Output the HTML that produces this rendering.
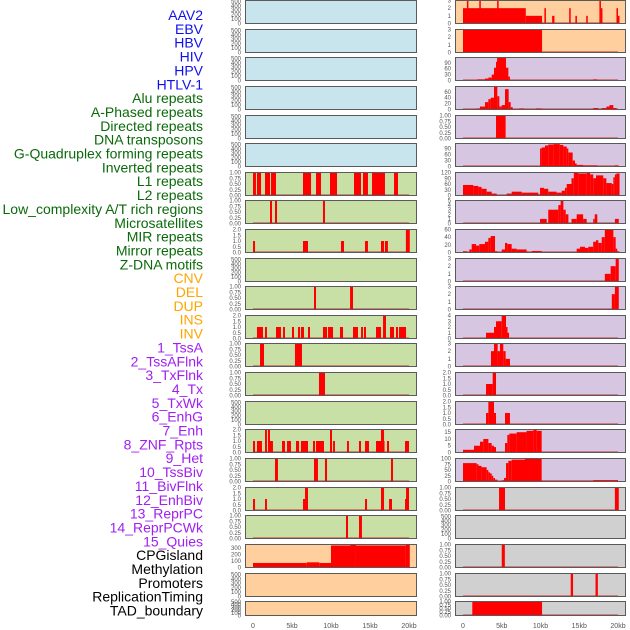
<!DOCTYPE html>
<html><head><meta charset="utf-8">
<style>
html,body{margin:0;padding:0;background:#fff;}
svg{display:block;font-family:"Liberation Sans",sans-serif;}
</style></head>
<body>
<svg id="chart" width="630" height="630" viewBox="0 0 630 630" xmlns="http://www.w3.org/2000/svg"></svg>
<script>
const labels=["AAV2","EBV","HBV","HIV","HPV","HTLV-1","Alu repeats","A-Phased repeats","Directed repeats","DNA transposons","G-Quadruplex forming repeats","Inverted repeats","L1 repeats","L2 repeats","Low_complexity A/T rich regions","Microsatellites","MIR repeats","Mirror repeats","Z-DNA motifs","CNV","DEL","DUP","INS","INV","1_TssA","2_TssAFlnk","3_TxFlnk","4_Tx","5_TxWk","6_EnhG","7_Enh","8_ZNF_Rpts","9_Het","10_TssBiv","11_BivFlnk","12_EnhBiv","13_ReprPC","14_ReprPCWk","15_Quies","CPGisland","Methylation","Promoters","ReplicationTiming","TAD_boundary"];
const labelGroups=[6,13,5,15,5];
const groupColors=["#1010ee","#0a6a0a","#ffa500","#a020f0","#000000"];
const xTicks=[0,5,10,15,20];
const xTickLabels=["0","5kb","10kb","15kb","20kb"];
const panelTops=[0,29,57,86,115,143,172,200,229,258,286,315,343,372,401,429,458,487,515,544,573,601];
const leftFill=["#c8e4ec","#c8e4ec","#c8e4ec","#c8e4ec","#c8e4ec","#c8e4ec","#c8e0a6","#c8e0a6","#c8e0a6","#c8e0a6","#c8e0a6","#c8e0a6","#c8e0a6","#c8e0a6","#c8e0a6","#c8e0a6","#c8e0a6","#c8e0a6","#c8e0a6","#ffd09e","#ffd09e","#ffd09e"];
const rightFill=["#ffd09e","#ffd09e","#d6c6e2","#d6c6e2","#d6c6e2","#d6c6e2","#d6c6e2","#d6c6e2","#d6c6e2","#d6c6e2","#d6c6e2","#d6c6e2","#d6c6e2","#d6c6e2","#d6c6e2","#d6c6e2","#d6c6e2","#d0d0d0","#d0d0d0","#d0d0d0","#d0d0d0","#d0d0d0"];
const E=[];
// Left column data: [startKb, endKb, value]
const L7=[[0,0.38,1],[0.51,1.03,1],[1.54,2.18,1],[2.31,2.95,1],[6.41,7.44,1],[8.08,8.72,1],[9.87,10.77,1],[12.95,13.85,1],[14.1,14.74,1],[15.26,16.92,1],[18.08,18.59,1]];
const L8=[[2.18,2.44,1],[2.82,3.08,1],[8.97,9.23,1]];
const L9=[[0,0.26,1],[6.41,7.05,1],[11.28,11.67,1],[14.36,14.74,1],[16.41,16.8,1],[16.92,17.3,1],[19.6,20.1,2]];
const L11=[[7.82,8.08,1],[12.44,12.82,1]];
const L12=[[0.51,1.28,1],[1.54,1.79,1],[2.95,3.59,1],[3.85,4.1,1],[5.0,5.26,1],[5.77,6.03,1],[6.15,6.54,1],[7.05,7.31,1],[8.97,9.49,1],[9.62,10.26,1],[11.15,11.54,1],[12.82,13.46,1],[13.85,14.1,1],[14.23,14.49,1],[15.77,16.41,1],[16.67,17.05,2],[17.56,18.08,1],[18.33,18.59,1],[18.72,19.62,1]];
const L13=[[0.9,1.41,1],[5.38,6.28,1]];
const L14=[[8.46,9.23,1]];
const L16=[[0,0.26,1],[0.51,1.15,1],[1.54,1.79,2],[1.92,2.18,2],[2.18,2.56,1],[3.72,4.1,1],[4.36,4.87,1],[5.51,5.9,1],[6.15,7.05,1],[7.69,7.95,1],[8.08,9.1,1],[9.87,10.13,2],[10.26,10.51,1],[12.05,12.3,1],[13.59,13.85,1],[14.36,14.87,1],[15.77,16.41,1],[16.41,16.8,2],[16.8,16.67,1],[17.18,17.44,1],[19.49,20,1]];
const L17=[[2.82,3.2,1],[7.82,8.33,1],[9.23,9.49,1],[17.69,17.95,1]];
const L18=[[0,0.26,1],[1.54,1.79,1],[6.41,6.67,1],[6.67,7.05,2],[14.36,14.62,1],[16.41,16.8,2],[17.44,17.82,1],[19.49,19.62,1],[19.62,20,2]];
const L19=[[11.92,12.18,1],[13.59,13.97,1]];
const L20=[[0,6.9,70],[6.9,8.5,80],[8.5,10,70],[10,12.5,340],[12.5,13.2,355],[13.2,19.6,340],[19.6,20.1,350]];
const leftData=[E,E,E,E,E,E,L7,L8,L9,E,L11,L12,L13,L14,E,L16,L17,L18,L19,L20,E,E];
const leftMax=[520,520,520,520,520,520,1,1,2,520,1,2,1,1,520,2,1,2,1,355,520,520];
const leftTicks=[[0,100,200,300,400,500],[0,100,200,300,400,500],[0,100,200,300,400,500],[0,100,200,300,400,500],[0,100,200,300,400,500],[0,100,200,300,400,500],[0,0.25,0.5,0.75,1],[0,0.25,0.5,0.75,1],[0,0.5,1,1.5,2],[0,100,200,300,400,500],[0,0.25,0.5,0.75,1],[0,0.5,1,1.5,2],[0,0.25,0.5,0.75,1],[0,0.25,0.5,0.75,1],[0,100,200,300,400,500],[0,0.5,1,1.5,2],[0,0.25,0.5,0.75,1],[0,0.5,1,1.5,2],[0,0.25,0.5,0.75,1],[0,100,200,300],[0,100,200,300,400,500],[0,100,200,300,400,500]];
// Right column data
const R1=[[0,8.1,2],[0.5,0.7,3],[2.1,2.3,3],[4.4,4.6,3],[8.1,10.2,1],[10.5,10.7,2],[11.5,11.8,1],[13.7,13.9,2],[14.5,14.7,1],[15.9,16.1,1],[17.6,17.8,3],[17.8,17.9,2],[19.8,20,2],[20,20.1,1]];
const R2=[[0,10.2,3]];
const R3=[[1.85,2.84,5],[2.84,3.27,10],[3.27,3.7,15],[3.7,4.0,30],[4.0,4.26,65],[4.26,4.4,95],[4.4,5.55,117],[5.55,5.85,65],[5.85,6.06,20],[16.8,17.3,5]];
const R4=[[1.76,2.19,3],[2.19,2.84,10],[2.84,3.27,25],[3.27,3.57,35],[3.57,4.0,40],[4.0,4.43,78],[4.43,4.69,45],[4.69,4.99,10],[4.99,5.42,15],[5.42,5.89,69],[5.89,6.15,25],[6.15,6.41,8],[7.27,7.87,3],[9.42,10.15,3],[16.8,17.46,5],[17.9,18.5,5],[18.5,18.9,10],[18.9,19.4,15],[19.4,19.8,5]];
const R5=[[4.26,5.5,1]];
const R6=[[9.94,10.15,90],[10.15,10.58,95],[10.58,11.0,105],[11.0,11.66,110],[11.66,12.5,112],[12.5,12.95,108],[12.95,13.38,100],[13.38,13.59,90],[13.59,14.15,70],[14.15,14.45,30],[14.45,14.67,15],[14.67,15.5,8],[15.5,17.33,5],[19.6,20.1,5]];
const R7=[[0,1.33,55],[1.33,1.98,50],[1.98,2.4,45],[2.4,3.05,35],[3.05,3.7,20],[3.7,4.34,10],[4.34,5.63,2],[5.63,6.28,10],[6.28,7.57,20],[7.57,9.72,15],[9.72,9.94,5],[9.94,10.45,40],[10.45,11.0,35],[11.0,12.08,20],[12.08,12.73,15],[12.73,13.16,25],[13.16,13.38,40],[13.38,14.0,60],[14.0,14.3,90],[14.3,14.88,120],[14.88,15.96,115],[15.96,16.4,120],[16.4,16.8,110],[16.8,17.16,90],[17.16,18.1,105],[18.1,18.5,90],[18.5,19.2,65],[19.2,19.4,60],[19.4,19.6,95],[19.6,19.8,110],[19.8,20.2,115]];
const R8=[[9.94,10.8,1],[11.0,12.3,3],[12.3,12.6,4],[12.6,12.95,5],[12.95,13.25,3],[13.25,13.6,2],[14.0,14.67,1],[14.67,15.5,2],[15.5,15.96,1],[16.8,17.0,1],[17.0,17.33,2],[19.6,20.1,1]];
const R9=[[0,0.47,3],[0.82,1.12,8],[1.12,1.68,22],[1.68,2.1,18],[2.1,2.84,22],[2.84,3.27,28],[3.27,3.57,38],[3.57,4.13,43],[4.13,4.43,3],[5.0,5.42,8],[5.42,5.72,25],[5.72,6.28,22],[6.28,6.92,10],[6.92,8.2,8],[8.2,8.43,2],[8.86,10.15,4],[14.67,15.1,10],[15.1,15.74,15],[15.74,16.17,12],[16.17,16.8,15],[16.8,17.16,28],[17.16,17.46,32],[17.46,17.9,25],[17.9,18.3,40],[18.3,19.4,60],[19.4,19.7,40],[19.7,19.9,10],[19.9,20.17,3]];
const R10=[[18.3,19.05,1],[19.05,19.7,2],[19.7,20.1,3]];
const R11=[[19.2,19.6,2],[19.6,20.1,3]];
const R12=[[2.97,4.0,1],[4.0,4.26,2],[4.26,4.99,3],[4.99,5.55,4],[5.55,5.72,2],[5.72,5.94,1]];
const R13=[[3.61,4.0,2],[4.0,4.47,3],[4.47,4.77,2],[4.77,5.2,3],[5.2,5.5,2],[5.5,6.06,1]];
const R14=[[2.97,3.83,1],[3.83,4.26,2]];
const R15=[[2.97,3.27,1],[3.27,4.0,2],[4.0,4.26,1],[5.42,6.06,1]];
const R16=[[0,1.42,2],[1.42,2.19,5],[2.19,2.62,8],[2.62,3.27,10],[3.27,3.7,7],[3.7,4.0,5],[4.0,4.26,4],[5.42,5.72,7],[5.72,5.98,13],[5.98,6.92,14],[6.92,8.2,15],[8.2,9.08,16],[9.08,9.5,17],[9.5,10.15,16]];
const R17=[[0,1.76,80],[1.76,2.0,75],[2.0,2.4,68],[2.4,3.05,62],[3.05,3.27,50],[3.27,3.48,40],[3.48,3.7,35],[3.7,3.9,25],[3.9,4.13,15],[4.13,4.43,8],[4.43,5.0,2],[5.0,5.29,5],[5.29,5.55,15],[5.55,5.85,80],[5.85,6.28,90],[6.28,8.0,95],[8.0,10.15,100],[10.15,16.8,3],[16.8,20,6]];
const R18=[[4.65,5.42,1],[19.6,20.1,1]];
const R20=[[5.0,5.4,1]];
const R21=[[13.9,14.2,1],[17.1,17.4,1]];
const R22=[[1.2,10.2,1]];
const rightData=[R1,R2,R3,R4,R5,R6,R7,R8,R9,R10,R11,R12,R13,R14,R15,R16,R17,R18,E,R20,R21,R22];
const rightMax=[3,3,117,78,1,115,120,5,60,3,3,4,3,2,2,17,100,1,520,1,1,1];
const rightTicks=[[0,1,2,3],[0,1,2,3],[0,30,60,90],[0,20,40,60],[0,0.25,0.5,0.75,1],[0,30,60,90],[0,30,60,90,120],[0,1,2,3,4,5],[0,20,40,60],[0,1,2,3],[0,1,2,3],[0,1,2,3,4],[0,1,2,3],[0,0.5,1,1.5,2],[0,0.5,1,1.5,2],[0,5,10,15],[0,25,50,75,100],[0,0.25,0.5,0.75,1],[0,100,200,300,400,500],[0,0.25,0.5,0.75,1],[0,0.25,0.5,0.75,1],[0,0.25,0.5,0.75,1]];

const NS="http://www.w3.org/2000/svg";
const svg=document.getElementById('chart');
function mk(tag,attrs,parent){const e=document.createElementNS(NS,tag);for(const k in attrs)e.setAttribute(k,attrs[k]);(parent||svg).appendChild(e);return e;}
function fmt(v,ticks){const dec=ticks.some(t=>t%1!==0);if(!dec)return String(v);const two=ticks.some(t=>Math.round(t*100)%50!==0);return v.toFixed(two?2:1);}

// row labels
let li=0;
labelGroups.forEach((n,g)=>{for(let k=0;k<n;k++){const t=mk('text',{x:203,y:20+li*13.85,'text-anchor':'end','font-size':'14',fill:groupColors[g]});t.textContent=labels[li];


li++;}});

const cols=[{x0:245,x1:417,z:253,t:409,data:leftData,max:leftMax,ticks:leftTicks,fill:leftFill,name:'left'},{x0:455,x1:626,z:463,t:618,data:rightData,max:rightMax,ticks:rightTicks,fill:rightFill,name:'right'}];
cols.forEach(c=>{
  const xs=kb=>c.z+(c.t-c.z)*kb/20;
  panelTops.forEach((top,i)=>{
    const h=(i===panelTops.length-1)?15:24;
    const g=mk('g',{});
    
    
    mk('rect',{x:c.x0,y:top,width:c.x1-c.x0,height:h,fill:c.fill[i]},g);
    const y0=top+h-0.5, y1=top+0.5;
    const ys=v=>y0-(y0-y1)*v/c.max[i];
    if(c.data[i].length){
      const bl=mk('rect',{x:xs(0),y:y0-1.5,width:xs(20)-xs(0),height:1.5,fill:'rgba(200,30,30,0.45)'},g);
      
      
    }
    c.data[i].forEach(s=>{
      const a=xs(Math.min(s[0],s[1])),b=xs(Math.max(s[0],s[1]));
      const r=mk('rect',{x:a,y:ys(s[2]),width:Math.max(1.5,b-a),height:y0-ys(s[2]),fill:'#ff0000'},g);
      
      
    });
    mk('rect',{x:c.x0+0.5,y:top+0.5,width:c.x1-c.x0-1,height:h-1,fill:'none',stroke:'#5a5a5a','stroke-width':1},g);
    c.ticks[i].forEach(tv=>{
      const t=mk('text',{x:c.x0-4,y:ys(tv)+2,'text-anchor':'end','font-size':'6',fill:'#555'},g);
      t.textContent=fmt(tv,c.ticks[i]);
      
      
    });
  });
  xTicks.forEach((v,k)=>{
    const t=mk('text',{x:xs(v),y:628,'text-anchor':'middle','font-size':'7',fill:'#555'});
    t.textContent=xTickLabels[k];
    
    
  });
});
</script>
</body></html>
